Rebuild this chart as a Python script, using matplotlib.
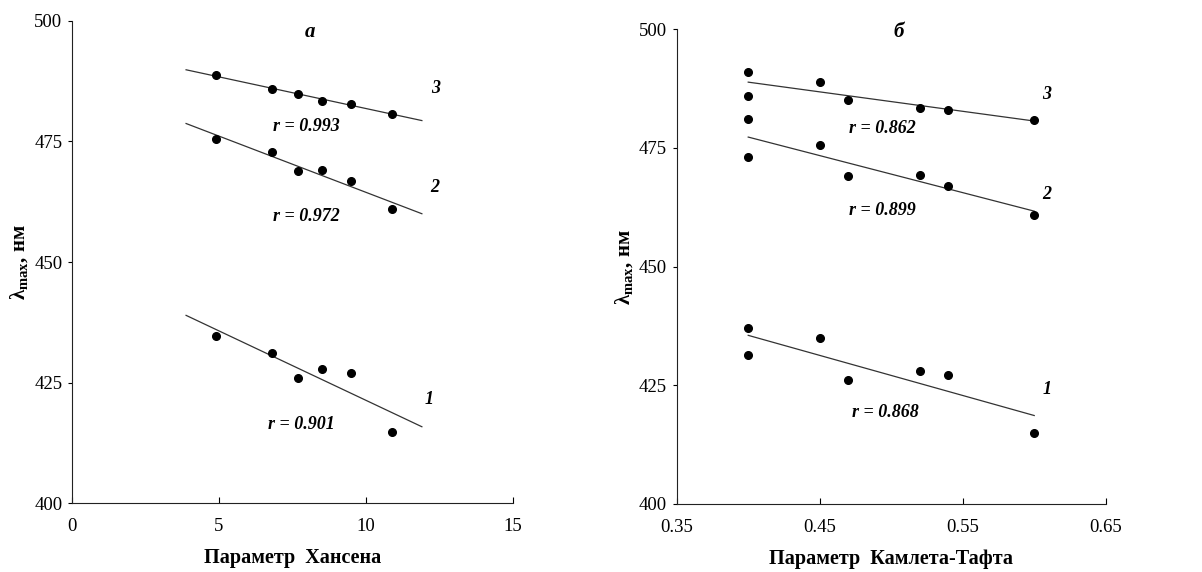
import numpy as np
import matplotlib
matplotlib.use("Agg")
import matplotlib.pyplot as plt

plt.rcParams['font.family'] = ['Liberation Serif', 'DejaVu Serif']
plt.rcParams['mathtext.fontset'] = 'custom'
plt.rcParams['mathtext.rm'] = 'Liberation Serif:bold'

# ----------------- data -----------------
# panel a: Hansen parameter
hansen_x = [4.9, 6.8, 7.7, 8.5, 9.5, 10.9]
hansen_y1 = [434.7, 431.2, 425.9, 427.9, 427.0, 414.8]
hansen_y2 = [475.5, 472.8, 468.9, 469.1, 466.8, 460.9]
hansen_y3 = [488.8, 485.9, 484.8, 483.3, 482.8, 480.8]
hansen_r = ["r = 0.901", "r = 0.972", "r = 0.993"]

# panel б: Kamlet-Taft parameter
kt_x = [0.40, 0.40, 0.45, 0.47, 0.52, 0.54, 0.60]
kt_y1 = [437.1, 431.4, 435.0, 426.1, 428.0, 427.1, 415.0]
kt_y2 = [481.0, 473.0, 475.7, 469.0, 469.2, 467.0, 460.9]
kt_y3 = [491.0, 486.0, 489.0, 485.0, 483.4, 483.0, 480.9]
kt_r = ["r = 0.868", "r = 0.899", "r = 0.862"]

series_names = ["1", "2", "3"]


def draw_panel(ax, x, ys, fit_range, xlim, xticks, xticklabels, xlabel,
               title, title_pos, num_pos, r_labels, r_pos):
    xf = np.array(fit_range)
    for y in ys:
        ax.plot(x, y, 'o', color='black', ms=5.5, zorder=3)
        # least-squares line through each series
        k, b = np.polyfit(x, y, 1)
        ax.plot(xf, k * xf + b, color='#333333', lw=0.9, zorder=2)

    for name, pos in zip(series_names, num_pos):
        ax.text(pos[0], pos[1], name, fontsize=13, fontweight='bold',
                style='italic', ha='center', va='center')
    for lab, pos in zip(r_labels, r_pos):
        ax.text(pos[0], pos[1], lab, fontsize=13, fontweight='bold',
                style='italic', ha='center', va='center')
    ax.text(title_pos[0], title_pos[1], title, fontsize=15, fontweight='bold',
            style='italic', ha='center', va='center')

    ax.set_xlim(*xlim)
    ax.set_ylim(400, 500)
    ax.set_xticks(xticks)
    ax.set_xticklabels(xticklabels)
    ax.set_yticks([400, 425, 450, 475, 500])
    ax.spines['top'].set_visible(False)
    ax.spines['right'].set_visible(False)
    ax.spines['left'].set_color('#222222')
    ax.spines['bottom'].set_color('#222222')
    ax.tick_params(axis='y', direction='out', length=3, labelsize=13.5, pad=4)
    ax.tick_params(axis='x', direction='in', length=4, labelsize=13.5, pad=11)
    ax.set_xlabel(xlabel, fontsize=14.5, fontweight='bold', labelpad=9)
    ax.set_ylabel(r'λ$_{\mathrm{max}}$, нм', fontsize=15, fontweight='bold',
                  labelpad=2)


fig = plt.figure(figsize=(12.02, 5.72), dpi=100)
ax1 = fig.add_axes([0.0599, 0.1206, 0.3669, 0.8427])
ax2 = fig.add_axes([0.5630, 0.1189, 0.3569, 0.8299])

draw_panel(ax1, hansen_x, [hansen_y1, hansen_y2, hansen_y3],
           fit_range=[3.88, 11.9], xlim=(0, 15), xticks=[0, 5, 10, 15],
           xticklabels=['0', '5', '10', '15'], xlabel='Параметр  Хансена',
           title='а', title_pos=(8.1, 497.7),
           num_pos=[(12.15, 421.4), (12.35, 465.4), (12.37, 485.9)],
           r_labels=hansen_r,
           r_pos=[(7.81, 416.2), (7.98, 459.4), (7.98, 478.1)])

draw_panel(ax2, kt_x, [kt_y1, kt_y2, kt_y3],
           fit_range=[0.40, 0.60], xlim=(0.35, 0.65),
           xticks=[0.35, 0.45, 0.55, 0.65],
           xticklabels=['0.35', '0.45', '0.55', '0.65'],
           xlabel='Параметр  Камлета-Тафта',
           title='б', title_pos=(0.5055, 499.5),
           num_pos=[(0.6087, 424.2), (0.609, 465.1), (0.6087, 486.2)],
           r_labels=kt_r,
           r_pos=[(0.496, 419.2), (0.4936, 461.8), (0.494, 479.0)])

for ax in (ax1, ax2):
    for t in ax.texts:
        t.set_clip_on(False)

fig.savefig('out.png', dpi=100)
